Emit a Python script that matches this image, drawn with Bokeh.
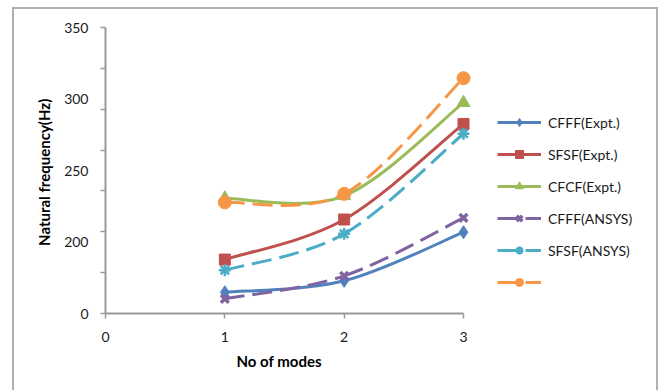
import numpy as np
from bokeh.plotting import figure
from bokeh.models import Range1d, FixedTicker, Legend, LegendItem, Title
from bokeh.embed import file_html
from bokeh.resources import INLINE

# ---- data ----
modes = [1, 2, 3]
cfff_expt = [26, 40, 99.5]
sfsf_expt = [66, 115, 232]
cfcf_expt = [141, 144, 258]
cfff_ansys = [18, 46, 117]
sfsf_ansys = [53, 97.5, 220]
cfcf_ansys = [136, 146.5, 288]

series_names = ["CFFF(Expt.)", "SFSF(Expt.)", "CFCF(Expt.)",
                "CFFF(ANSYS)", "SFSF(ANSYS)", " "]
xtick_values = [0, 1, 2, 3]
xtick_labels = ["0", "1", "2", "3"]
ytick_labels = ["0", "200", "250", "300", "350"]
y_minor_ticks = [0, 50, 100, 150, 200, 250, 300, 350]

FONT = "Lato"
AXIS_COLOR = "#9a9a9a"
TEXT_COLOR = "#1a1a1a"
BORDER = "2px solid #b0b0b0"

# page layout (canvas pixels of the 664x392 window)
OX, OY = 14, 9                      # figure origin inside the chart border
FIG_W, FIG_H = 660 - OX, 392 - OY
AX_L, AX_R, AX_T, AX_B = 105, 463, 27, 313   # axis box
FRAME_R = 640                       # frame extends right to hold the legend

x_end = 3 * (FRAME_R - AX_L) / (AX_R - AX_L)

p = figure(width=FIG_W, height=FIG_H, output_backend="svg", toolbar_location=None,
           x_range=Range1d(0, x_end), y_range=Range1d(0, 350),
           min_border_left=AX_L - OX, min_border_right=OX + FIG_W - FRAME_R,
           min_border_top=AX_T - OY, min_border_bottom=OY + FIG_H - AX_B)
p.margin = (OY - 2, 0, 0, OX - 2)
p.styles = {"border-top": BORDER, "border-left": BORDER, "border-right": BORDER}
p.outline_line_color = None
p.grid.visible = False
p.background_fill_color = "white"
p.border_fill_color = "white"

# x axis
xa = p.xaxis[0]
xa.bounds = (0, 3)
xa.ticker = FixedTicker(ticks=xtick_values)
xa.major_label_overrides = {v: l for v, l in zip(xtick_values, xtick_labels)}
xa.axis_line_color = AXIS_COLOR
xa.axis_line_width = 2
xa.major_tick_line_color = AXIS_COLOR
xa.major_tick_line_width = 1.5
xa.major_tick_in = 0
xa.major_tick_out = 5
xa.minor_tick_line_color = None
xa.major_label_text_font = FONT
xa.major_label_text_font_size = "14px"
xa.major_label_text_color = TEXT_COLOR
xa.major_label_standoff = 13

# x axis title, centred under the axis line
p.add_layout(Title(text="No of modes", align="left", offset=236 - AX_L,
                   text_font=FONT, text_font_style="bold", text_font_size="15px",
                   text_color="black", standoff=10), "below")

# y axis: labels as printed in the reference, minor ticks every 50
ya = p.yaxis[0]
ya.bounds = (0, 350)
label_pos = list(np.linspace(0, 350, len(ytick_labels)))
ya.ticker = FixedTicker(ticks=label_pos, minor_ticks=y_minor_ticks)
ya.major_label_overrides = {float(v): l for v, l in zip(label_pos, ytick_labels)}
ya.axis_line_color = AXIS_COLOR
ya.axis_line_width = 2
ya.major_tick_line_color = None
ya.major_tick_in = 0
ya.major_tick_out = 5
ya.minor_tick_line_color = AXIS_COLOR
ya.minor_tick_line_width = 1.5
ya.minor_tick_in = 0
ya.minor_tick_out = 5
ya.major_label_text_font = FONT
ya.major_label_text_font_size = "14px"
ya.major_label_text_color = TEXT_COLOR
ya.major_label_standoff = 12
ya.axis_label = "Natural  frequency(Hz)"
ya.axis_label_text_font = FONT
ya.axis_label_text_font_style = "bold"
ya.axis_label_text_font_size = "15px"
ya.axis_label_text_color = "black"
ya.axis_label_standoff = 8


def smooth(xs, ys):
    """Bezier control points (Catmull-Rom, like a smoothed spreadsheet line)."""
    n = len(xs)
    out = dict(x0=[], y0=[], x1=[], y1=[], cx0=[], cy0=[], cx1=[], cy1=[])
    for i in range(n - 1):
        a = i - 1 if i > 0 else i
        d = i + 2 if i + 2 < n else i + 1
        out["x0"].append(xs[i]); out["y0"].append(ys[i])
        out["x1"].append(xs[i + 1]); out["y1"].append(ys[i + 1])
        out["cx0"].append(xs[i] + (xs[i + 1] - xs[a]) / 6)
        out["cy0"].append(ys[i] + (ys[i + 1] - ys[a]) / 6)
        out["cx1"].append(xs[i + 1] - (xs[d] - xs[i]) / 6)
        out["cy1"].append(ys[i + 1] - (ys[d] - ys[i]) / 6)
    return out


series = [
    (cfff_expt, "#4F81BD", None, "diamond", 13, dict()),
    (sfsf_expt, "#C0504D", None, "square", 11, dict()),
    (cfcf_expt, "#9BBB59", None, "triangle", 13, dict()),
    (cfff_ansys, "#8064A2", "20 8", "x", 11, dict(line_width=3.5)),
    (sfsf_ansys, "#4BACC6", "20 8", "asterisk", 12, dict(line_width=2.5)),
    (cfcf_ansys, "#F79646", "20 8", "circle", 13, dict()),
]

items = []
for (vals, color, dash, marker, size, mk), name in zip(series, series_names):
    seg = smooth(modes, vals)
    style = dict(line_color=color, line_width=3, line_dash=dash if dash else "solid")
    p.bezier(**seg, **style)
    # one-point line: draws nothing in the plot, only the legend swatch
    swatch = p.line(x=modes[:1], y=vals[:1], **style)
    sc = p.scatter(modes, vals, marker=marker, size=size, fill_color=color,
                   line_color=color, **mk)
    items.append(LegendItem(label=name, renderers=[swatch, sc]))

n_items = len(items)
ROW_H, ROW_GAP = 20, 12
legend_h = n_items * ROW_H + (n_items - 1) * ROW_GAP
legend = Legend(items=items,
                location=(497 - AX_L, int(AX_B - 111.5 - legend_h)),
                glyph_width=44, glyph_height=ROW_H, label_height=ROW_H,
                spacing=ROW_GAP, label_standoff=7, padding=0, margin=0,
                border_line_color=None, background_fill_alpha=0,
                label_text_font=FONT, label_text_font_size="14px",
                label_text_color=TEXT_COLOR)
p.add_layout(legend)

open("out.html", "w").write(file_html(p, INLINE))
